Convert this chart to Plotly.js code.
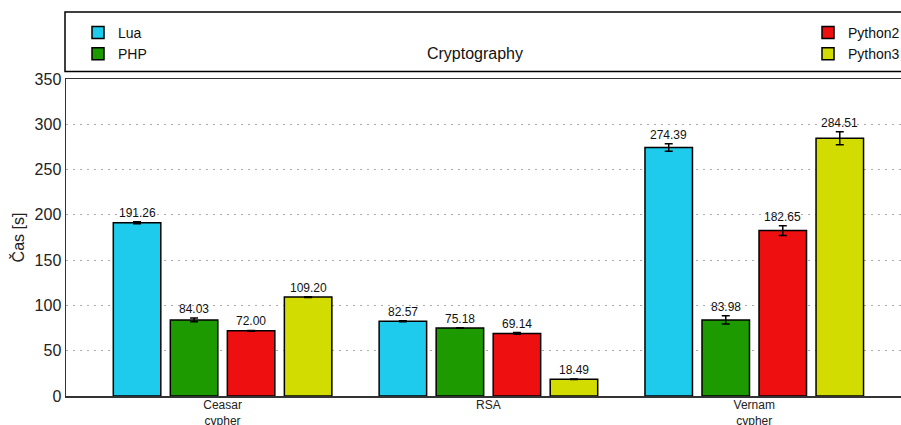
<!DOCTYPE html>
<html>
<head>
<meta charset="utf-8">
<script src="https://cdn.plot.ly/plotly-3.0.1.min.js"></script>
<style>html,body{margin:0;padding:0;background:#fff;}#chart{width:901px;height:425px;}</style>
</head>
<body>
<div id="chart"></div>
<script>
// ---- data ----
const categories = ["Ceasar<br>cypher", "RSA", "Vernam<br>cypher"];
const seriesNames = ["Lua", "PHP", "Python2", "Python3"];
const luaValues = [191.26, 82.57, 274.39];
const phpValues = [84.03, 75.18, 83.98];
const python2Values = [72.00, 69.14, 182.65];
const python3Values = [109.20, 18.49, 284.51];
const luaErrors = [1.2, 0.5, 4.2];
const phpErrors = [2.0, 0.3, 4.6];
const python2Errors = [0.4, 0.9, 5.4];
const python3Errors = [0.5, 0.3, 7.2];
const yTickValues = [0, 50, 100, 150, 200, 250, 300, 350];

// ---- style ----
const colors = ["#1ecbec", "#1c9a00", "#ee0f10", "#d3dc00"];
const values = [luaValues, phpValues, python2Values, python3Values];
const errors = [luaErrors, phpErrors, python2Errors, python3Errors];
const legendFor = ["legend", "legend", "legend2", "legend2"];
const catIdx = categories.map((c, i) => i);

const bargap = 0.142, bargroupgap = 0.167;
const slot = (1 - bargap) / seriesNames.length;

const traces = seriesNames.map((name, j) => ({
  type: "bar",
  name: name,
  x: catIdx,
  y: values[j],
  legend: legendFor[j],
  marker: {color: colors[j], line: {color: "#000", width: 1.5}},
  error_y: {type: "data", array: errors[j], visible: true, color: "#000", thickness: 1.5, width: 4},
  hoverinfo: "name+y"
}));

const annotations = [];
seriesNames.forEach((name, j) => {
  catIdx.forEach((i) => {
    annotations.push({
      x: i + (j - (seriesNames.length - 1) / 2) * slot,
      y: values[j][i] + errors[j][i],
      xref: "x", yref: "y",
      text: values[j][i].toFixed(2),
      showarrow: false,
      yanchor: "middle",
      yshift: 9,
      font: {size: 12, color: "#111"}
    });
  });
});

const layout = {
  width: 901, height: 425,
  margin: {l: 66, r: 0, t: 79, b: 29, pad: 0, autoexpand: false},
  paper_bgcolor: "#fff", plot_bgcolor: "#fff",
  font: {family: "Liberation Sans, Arial, sans-serif", color: "#222"},
  barmode: "group",
  bargap: bargap,
  bargroupgap: bargroupgap,
  title: {
    text: "Cryptography",
    x: 475 / 901, xref: "container", xanchor: "center",
    y: 1 - 53 / 425, yref: "container", yanchor: "middle",
    font: {size: 16, color: "#111"}
  },
  xaxis: {
    range: [-0.589, 2.552],
    tickmode: "array",
    tickvals: catIdx,
    ticktext: categories,
    ticks: "",
    ticklabelstandoff: -3,
    showgrid: false,
    zeroline: false,
    showline: true,
    mirror: true,
    linecolor: "#333",
    linewidth: 1.5,
    tickfont: {size: 12, color: "#222"},
    automargin: false,
    fixedrange: true
  },
  yaxis: {
    range: [0, 350],
    tickmode: "array",
    tickvals: yTickValues,
    ticks: "",
    showgrid: true,
    gridcolor: "#aaaaaa",
    griddash: "2px,5px",
    gridwidth: 1,
    zeroline: false,
    showline: true,
    linecolor: "#333",
    linewidth: 1.5,
    tickfont: {size: 16, color: "#222"},
    title: {text: "Čas [s]", font: {size: 16, color: "#222"}, standoff: 6},
    automargin: false,
    fixedrange: true
  },
  legend: {
    x: (78 - 66) / 835, xanchor: "left",
    y: (396 - 17) / 317, yanchor: "top",
    bgcolor: "rgba(0,0,0,0)", borderwidth: 0,
    font: {size: 14, color: "#111"},
    traceorder: "normal"
  },
  legend2: {
    x: (808 - 66) / 835, xanchor: "left",
    y: (396 - 17) / 317, yanchor: "top",
    bgcolor: "rgba(0,0,0,0)", borderwidth: 0,
    font: {size: 14, color: "#111"},
    traceorder: "normal"
  },
  shapes: [{
    type: "rect", xref: "paper", yref: "paper",
    x0: (65 - 66) / 835, x1: 1.05,
    y0: (396 - 71.5) / 317, y1: (396 - 12) / 317,
    line: {color: "#000", width: 1.5},
    fillcolor: "rgba(0,0,0,0)"
  }],
  annotations: annotations
};

Plotly.newPlot("chart", traces, layout, {displayModeBar: false, staticPlot: true});
</script>
</body>
</html>
